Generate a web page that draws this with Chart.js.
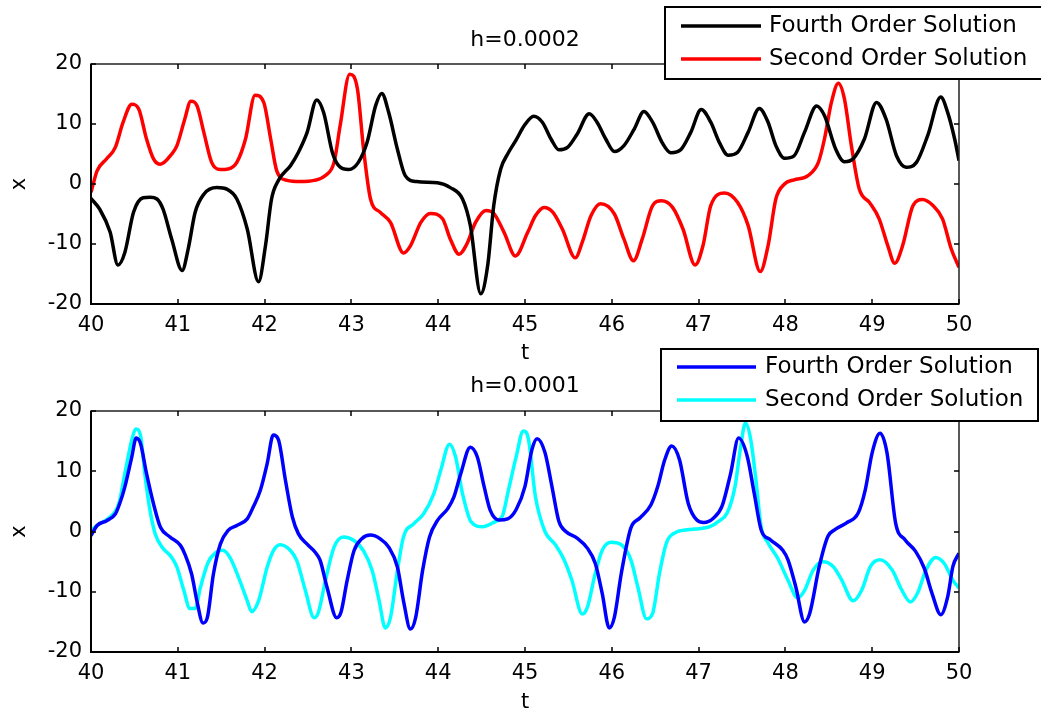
<!DOCTYPE html>
<html>
<head>
<meta charset="utf-8">
<title>Fourth vs Second Order Solution</title>
<script src="https://cdn.jsdelivr.net/npm/chart.js@4.4.1/dist/chart.umd.min.js"></script>
<style>
  html, body { margin: 0; padding: 0; background: #fff; overflow: hidden; }
  #wrap { position: relative; width: 1041px; height: 711px; }
  canvas { position: absolute; left: 0; }
  #topChart { top: 0; }
  #bottomChart { top: 345px; }
</style>
</head>
<body>
<div id="wrap">
  <canvas id="topChart" width="1041" height="366"></canvas>
  <canvas id="bottomChart" width="1041" height="370"></canvas>
</div>
<script>
// Tick labels
const tTicks = [40, 41, 42, 43, 44, 45, 46, 47, 48, 49, 50];
const xTicks = [-20, -10, 0, 10, 20];

// h=0.0002 : fourth order (black)
const tTop4 = [40, 40.10, 40.22, 40.31, 40.39, 40.49, 40.60, 40.68, 40.76, 40.83, 40.93, 41.05, 41.12, 41.20, 41.30, 41.45,
  41.57, 41.68, 41.80, 41.93, 42.01, 42.08, 42.16, 42.30, 42.39, 42.49, 42.60, 42.68, 42.78, 42.85, 42.97, 43.08, 43.18,
  43.28, 43.35, 43.43, 43.53, 43.62, 43.75, 43.99, 44.14, 44.28, 44.37, 44.49, 44.57, 44.64, 44.72, 44.80, 44.90, 44.99,
  45.10, 45.20, 45.30, 45.39, 45.49, 45.60, 45.74, 45.83, 45.93, 46.03, 46.14, 46.26, 46.37, 46.47, 46.58, 46.68, 46.80,
  46.91, 47.03, 47.14, 47.24, 47.34, 47.45, 47.57, 47.70, 47.80, 47.89, 47.99, 48.10, 48.22, 48.36, 48.45, 48.58, 48.68,
  48.78, 48.91, 49.05, 49.16, 49.28, 49.39, 49.51, 49.64, 49.79, 49.87, 49.95, 50.0];
const xTop4 = [-2.4, -4.2, -8.0, -13.5, -11.4, -4.7, -2.3, -2.2, -2.5, -4.2, -9.2, -14.4, -10.8, -4.7, -1.7, -0.6,
  -0.9, -2.5, -7.5, -16.3, -10.3, -2.5, 0.6, 3.1, 5.3, 8.6, 14.0, 11.9, 5.3, 3.1, 2.4, 3.6, 6.9,
  13.1, 15.1, 11.9, 5.8, 1.4, 0.4, 0.2, -0.6, -2.5, -6.9, -18.3, -13.6, -3.6, 2.5, 5.0, 7.4, 9.7,
  11.3, 10.3, 7.5, 5.7, 6.1, 8.3, 11.7, 10.3, 7.5, 5.4, 6.4, 9.2, 12.1, 10.3, 6.9, 5.2, 5.8,
  8.6, 12.4, 10.3, 6.9, 4.8, 5.3, 8.6, 12.6, 10.3, 6.4, 4.3, 4.7, 8.6, 13.0, 11.4, 5.8, 3.7,
  4.2, 7.5, 13.6, 10.8, 4.7, 2.8, 3.6, 8.1, 14.5, 11.9, 7.5, 3.9];

// h=0.0002 : second order (red)
const tTop2 = [40, 40.07, 40.18, 40.28, 40.37, 40.47, 40.55, 40.64, 40.72, 40.80, 40.93, 40.99, 41.08, 41.15, 41.22, 41.30,
  41.39, 41.49, 41.58, 41.68, 41.78, 41.89, 41.99, 42.07, 42.14, 42.26, 42.41, 42.57, 42.70, 42.80, 42.87, 42.98, 43.07,
  43.14, 43.22, 43.33, 43.45, 43.60, 43.68, 43.80, 43.91, 44.05, 44.14, 44.24, 44.33, 44.43, 44.55, 44.64, 44.76, 44.89,
  45.03, 45.12, 45.22, 45.32, 45.43, 45.58, 45.66, 45.76, 45.87, 46.03, 46.14, 46.25, 46.35, 46.47, 46.57, 46.70, 46.82,
  46.96, 47.05, 47.14, 47.30, 47.45, 47.57, 47.71, 47.80, 47.89, 47.99, 48.10, 48.26, 48.38, 48.45, 48.53, 48.61, 48.68,
  48.76, 48.85, 48.97, 49.08, 49.18, 49.26, 49.35, 49.47, 49.58, 49.70, 49.81, 49.91, 50.0];
const xTop2 = [-1.4, 2.2, 4.2, 6.1, 10.3, 13.3, 12.5, 7.5, 4.2, 3.3, 5.0, 6.4, 10.8, 13.8, 13.1, 8.6,
  3.6, 2.4, 2.5, 3.6, 7.5, 14.8, 13.6, 7.5, 2.2, 0.6, 0.4, 0.6, 1.4, 3.6, 9.7, 18.3, 15.8,
  5.8, -2.5, -4.7, -6.4, -11.5, -10.3, -6.4, -4.9, -5.8, -9.2, -11.7, -10.0, -6.4, -4.4, -4.9, -8.1, -12.0,
  -8.1, -5.3, -3.9, -4.7, -7.5, -12.3, -9.7, -5.3, -3.3, -5.0, -9.2, -12.8, -9.2, -3.6, -2.8, -3.9, -7.5,
  -13.5, -10.3, -3.6, -1.5, -3.1, -6.9, -14.6, -10.3, -2.5, 0.0, 0.7, 1.4, 3.6, 7.5, 13.6, 16.8, 14.2,
  6.4, -0.8, -3.1, -5.8, -10.3, -13.2, -10.3, -3.6, -2.6, -3.6, -5.8, -10.8, -13.9];

// h=0.0001 : fourth order (blue)
const tBot4 = [40, 40.07, 40.18, 40.28, 40.33, 40.39, 40.47, 40.52, 40.57, 40.64, 40.72, 40.80, 40.91, 41.03, 41.08, 41.16,
  41.22, 41.29, 41.34, 41.41, 41.49, 41.58, 41.68, 41.80, 41.87, 41.95, 42.03, 42.10, 42.16, 42.24, 42.32, 42.39, 42.49,
  42.58, 42.64, 42.72, 42.83, 42.88, 42.95, 43.03, 43.12, 43.22, 43.33, 43.43, 43.53, 43.60, 43.68, 43.74, 43.82, 43.90,
  43.99, 44.11, 44.18, 44.26, 44.37, 44.45, 44.53, 44.60, 44.70, 44.80, 44.90, 45.00, 45.08, 45.14, 45.23, 45.31, 45.39,
  45.47, 45.60, 45.72, 45.81, 45.89, 45.97, 46.03, 46.11, 46.22, 46.32, 46.45, 46.53, 46.61, 46.69, 46.78, 46.88, 46.98,
  47.06, 47.17, 47.27, 47.37, 47.46, 47.56, 47.64, 47.72, 47.83, 47.97, 48.03, 48.12, 48.22, 48.28, 48.39, 48.49, 48.57,
  48.70, 48.84, 48.92, 49.00, 49.09, 49.17, 49.27, 49.38, 49.50, 49.60, 49.69, 49.79, 49.87, 49.93, 50.0];
const xBot4 = [-0.7, 1.0, 1.8, 2.9, 4.6, 7.4, 12.4, 15.5, 14.6, 9.6, 4.6, 0.7, -0.9, -2.3, -3.7, -7.1,
  -11.5, -15.2, -14.3, -7.1, -2.1, 0.2, 1.0, 2.1, 4.1, 6.8, 11.3, 16.0, 15.2, 8.5, 2.4, -0.4, -2.1,
  -3.4, -4.8, -9.3, -14.3, -13.4, -8.2, -3.2, -1.2, -0.6, -1.2, -2.6, -5.9, -11.5, -16.2, -14.3, -6.5, -0.9,
  1.8, 3.8, 5.7, 9.6, 14.0, 12.4, 7.4, 3.5, 1.9, 2.1, 3.7, 7.5, 13.6, 15.4, 13.1, 7.5, 1.7,
  0.0, -1.1, -2.8, -5.3, -10.3, -16.0, -14.2, -6.9, 0.6, 2.2, 4.4, 7.5, 11.9, 14.2, 11.9, 4.7, 1.9,
  1.5, 2.2, 4.2, 9.7, 15.5, 12.5, 6.4, 0.3, -1.4, -3.1, -4.7, -9.2, -15.0, -13.6, -5.8, -0.8, 0.3,
  1.4, 3.1, 6.9, 13.1, 16.3, 13.1, 1.4, -1.4, -3.3, -6.1, -10.3, -13.8, -10.8, -5.8, -3.6];

// h=0.0001 : second order (cyan)
const tBot2 = [40, 40.10, 40.22, 40.32, 40.39, 40.47, 40.52, 40.57, 40.62, 40.68, 40.74, 40.82, 40.93, 40.99, 41.07, 41.14,
  41.20, 41.26, 41.35, 41.45, 41.52, 41.60, 41.70, 41.80, 41.85, 41.93, 42.03, 42.10, 42.18, 42.30, 42.37, 42.47, 42.57,
  42.62, 42.70, 42.80, 42.91, 43.03, 43.14, 43.24, 43.32, 43.39, 43.45, 43.53, 43.60, 43.72, 43.83, 43.95, 44.03, 44.13,
  44.20, 44.28, 44.38, 44.51, 44.65, 44.74, 44.81, 44.90, 44.98, 45.04, 45.12, 45.23, 45.35, 45.45, 45.54, 45.66, 45.72,
  45.81, 45.89, 45.99, 46.11, 46.22, 46.30, 46.40, 46.47, 46.55, 46.63, 46.73, 46.96, 47.13, 47.23, 47.33, 47.42, 47.48,
  47.54, 47.60, 47.66, 47.72, 47.80, 47.91, 48.03, 48.14, 48.22, 48.32, 48.43, 48.55, 48.65, 48.78, 48.88, 48.98, 49.09,
  49.23, 49.34, 49.44, 49.52, 49.62, 49.73, 49.83, 49.93, 50.0];
const xBot2 = [0.2, 1.3, 2.4, 4.6, 9.6, 15.2, 17.0, 16.0, 9.6, 3.5, -0.4, -2.6, -4.3, -5.9, -9.8, -12.8,
  -12.8, -9.3, -5.1, -3.4, -3.1, -4.3, -7.6, -11.5, -13.3, -11.5, -5.9, -3.2, -2.2, -3.2, -4.8, -9.8, -14.3,
  -13.4, -8.2, -2.6, -0.9, -1.5, -3.2, -6.5, -11.5, -16.0, -14.3, -6.5, -0.9, 1.3, 2.9, 6.3, 10.2, 14.5,
  12.4, 6.3, 1.6, 0.8, 1.6, 2.6, 6.9, 12.5, 16.7, 15.3, 5.8, 0.0, -2.2, -4.7, -8.1, -13.7, -12.5,
  -6.9, -3.1, -1.8, -2.2, -4.7, -9.2, -14.5, -13.6, -6.9, -1.9, -0.2, 0.4, 0.8, 1.7, 3.1, 7.5, 13.6,
  18.0, 15.3, 8.6, 0.8, -1.9, -4.4, -8.1, -11.0, -9.8, -6.4, -5.0, -5.8, -8.1, -11.5, -9.7, -5.8, -4.7,
  -6.4, -9.7, -11.7, -10.3, -6.4, -4.3, -5.3, -8.1, -9.4];

const FONT = '"DejaVu Sans", "Liberation Sans", sans-serif';

function toPoints(ts, xs) {
  return ts.map((t, i) => ({ x: t, y: xs[i] }));
}

// MATLAB-like box, inner ticks, title and legend
const matlabFrame = {
  id: 'matlabFrame',
  afterDraw(chart, args, opts) {
    const { ctx, chartArea: a } = chart;
    const sx = chart.scales.x, sy = chart.scales.y;
    ctx.save();
    ctx.strokeStyle = '#222';
    ctx.lineWidth = 1.5;
    ctx.strokeRect(a.left, a.top, a.right - a.left, a.bottom - a.top);
    ctx.strokeStyle = '#000';
    ctx.lineWidth = 2;
    ctx.beginPath();
    ctx.moveTo(a.left, a.top);
    ctx.lineTo(a.left, a.bottom);
    ctx.lineTo(a.right, a.bottom);
    ctx.stroke();

    const len = 5;
    ctx.lineWidth = 1.5;
    ctx.beginPath();
    sx.ticks.forEach(t => {
      const px = Math.round(sx.getPixelForValue(t.value));
      ctx.moveTo(px, a.bottom); ctx.lineTo(px, a.bottom - len);
      ctx.moveTo(px, a.top); ctx.lineTo(px, a.top + len);
    });
    sy.ticks.forEach(t => {
      const py = Math.round(sy.getPixelForValue(t.value));
      ctx.moveTo(a.left, py); ctx.lineTo(a.left + len, py);
      ctx.moveTo(a.right, py); ctx.lineTo(a.right - len, py);
    });
    ctx.stroke();

    ctx.fillStyle = '#000';
    ctx.font = '22px ' + FONT;
    ctx.textAlign = 'center';
    ctx.textBaseline = 'middle';
    ctx.fillText(opts.title, (a.left + a.right) / 2, opts.titleY);

    const L = opts.legend;
    ctx.fillStyle = '#fff';
    ctx.fillRect(L.x, L.y, L.w, L.h);
    ctx.strokeStyle = '#000';
    ctx.lineWidth = 2;
    ctx.strokeRect(L.x, L.y, L.w, L.h);
    ctx.font = '23px ' + FONT;
    ctx.textAlign = 'left';
    chart.data.datasets.forEach((ds, i) => {
      const ry = L.y + L.rows[i];
      ctx.strokeStyle = ds.borderColor;
      ctx.lineWidth = 3.5;
      ctx.beginPath();
      ctx.moveTo(L.x0, ry);
      ctx.lineTo(L.x1, ry);
      ctx.stroke();
      ctx.fillStyle = '#000';
      ctx.fillText(ds.label, L.textX, ry);
    });
    ctx.restore();
  }
};

function makeChart(id, series, padTop, xHeight, title, titleY, legend) {
  return new Chart(document.getElementById(id), {
    type: 'line',
    data: {
      datasets: series.map(s => ({
        label: s.label,
        data: toPoints(s.t, s.x),
        borderColor: s.color,
        borderWidth: 3.5,
        pointRadius: 0,
        fill: false,
        cubicInterpolationMode: 'monotone'
      }))
    },
    options: {
      responsive: false,
      animation: false,
      devicePixelRatio: 1,
      layout: { padding: { top: padTop, right: 82, left: 0, bottom: 0 } },
      plugins: {
        legend: { display: false },
        tooltip: { enabled: false },
        matlabFrame: { title: title, titleY: titleY, legend: legend }
      },
      scales: {
        x: {
          type: 'linear',
          min: 40,
          max: 50,
          afterBuildTicks: s => { s.ticks = tTicks.map(v => ({ value: v })); },
          afterFit: s => { s.height = xHeight; },
          grid: { display: false, drawTicks: false },
          border: { display: false },
          ticks: { autoSkip: false, maxRotation: 0, padding: 9, color: '#000', font: { family: FONT, size: 21 } },
          title: { display: true, text: 't', color: '#000', padding: 0, font: { family: FONT, size: 21 } }
        },
        y: {
          min: -20,
          max: 20,
          afterBuildTicks: s => { s.ticks = xTicks.map(v => ({ value: v })); },
          afterFit: s => { s.width = 91; },
          grid: { display: false, drawTicks: false },
          border: { display: false },
          ticks: { padding: 9, color: '#000', font: { family: FONT, size: 21 } },
          title: { display: true, text: 'x', color: '#000', padding: { top: 7, bottom: 0 }, font: { family: FONT, size: 21 } }
        }
      }
    },
    plugins: [matlabFrame]
  });
}

makeChart('topChart', [
  { label: 'Fourth Order Solution', t: tTop4, x: xTop4, color: '#000000' },
  { label: 'Second Order Solution', t: tTop2, x: xTop2, color: '#ff0000' }
], 64, 62, 'h=0.0002', 40,
  { x: 665, y: 7, w: 390, h: 72, rows: [19, 52], x0: 681, x1: 761, textX: 769 });

makeChart('bottomChart', [
  { label: 'Fourth Order Solution', t: tBot4, x: xBot4, color: '#0000ff' },
  { label: 'Second Order Solution', t: tBot2, x: xBot2, color: '#00ffff' }
], 66, 63, 'h=0.0001', 41,
  { x: 661, y: 4, w: 377, h: 72, rows: [18, 51], x0: 677, x1: 756, textX: 765 });
</script>
</body>
</html>
